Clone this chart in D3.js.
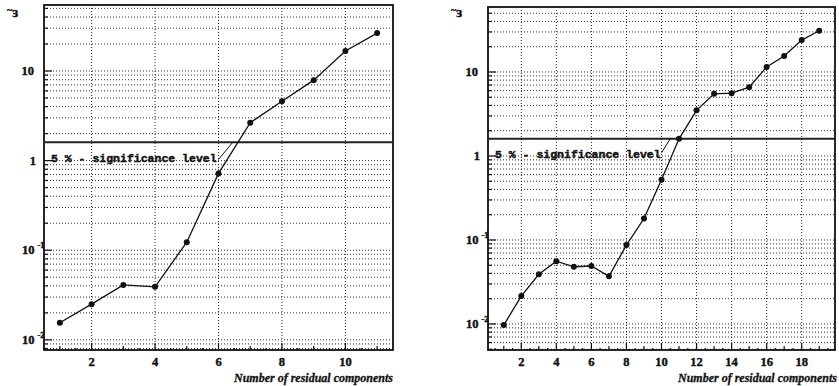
<!DOCTYPE html>
<html>
<head>
<meta charset="utf-8">
<script src="https://cdn.jsdelivr.net/npm/d3@7"></script>
<style>
  body { margin: 0; background: #fff; }
  svg { display: block; }
  .tick-lbl { font-family: "Liberation Serif", serif; font-weight: bold; font-size: 12.5px; fill: #111; stroke: #111; stroke-width: 0.4px; }
  .x-title { font-family: "Liberation Serif", serif; font-weight: bold; font-style: italic; font-size: 12px; fill: #111; stroke: #111; stroke-width: 0.3px; }
  .sig-lbl { font-family: "Liberation Mono", monospace; font-weight: bold; font-size: 11.5px; fill: #111; stroke: #111; stroke-width: 0.45px; }
</style>
</head>
<body>
<svg id="chart" width="839" height="386"></svg>
<script>
// left panel
const leftComponents = [1, 2, 3, 4, 5, 6, 7, 8, 9, 10, 11];
const leftEps = [0.0155, 0.025, 0.041, 0.039, 0.123, 0.72, 2.65, 4.6, 7.9, 16.7, 26.5];
const leftXTicks = [2, 4, 6, 8, 10];

// right panel
const rightComponents = [1, 2, 3, 4, 5, 6, 7, 8, 9, 10, 11, 12, 13, 14, 15, 16, 17, 18, 19];
const rightEps = [0.0097, 0.0215, 0.039, 0.056, 0.048, 0.049, 0.037, 0.087, 0.18, 0.52,
  1.6, 3.5, 5.5, 5.6, 6.6, 11.5, 15.5, 24, 31];
const rightXTicks = [2, 4, 6, 8, 10, 12, 14, 16, 18];

const yDecades = [10, 1, 0.1, 0.01];
const sigLevel = 1.6;
const sigText = "5 % - significance level";
const xTitle = "Number of residual components";

var svg = d3.select("#chart");

function drawPanel(opt) {
  const x = d3.scaleLinear().domain(opt.xDomain).range([opt.left, opt.right]);
  const y = d3.scaleLog().domain(opt.yDomain).range([opt.bottom, opt.top]);
  const g = svg.append("g");

  // minor log values inside the domain
  const minors = [];
  for (let e = -3; e <= 2; e++) {
    for (let k = 1; k <= 9; k++) {
      const v = k * Math.pow(10, e);
      if (v >= opt.yDomain[0] && v <= opt.yDomain[1]) minors.push(v);
    }
  }

  // horizontal dotted grid
  g.append("g").selectAll("line").data(minors).enter().append("line")
    .attr("x1", opt.left).attr("x2", opt.right)
    .attr("y1", d => y(d)).attr("y2", d => y(d))
    .attr("stroke", "#333").attr("stroke-width", 1)
    .attr("stroke-dasharray", "1,2");

  // vertical dotted grid
  g.append("g").selectAll("line").data(opt.xTicks).enter().append("line")
    .attr("x1", d => x(d)).attr("x2", d => x(d))
    .attr("y1", opt.top).attr("y2", opt.bottom)
    .attr("stroke", "#222").attr("stroke-width", 1)
    .attr("stroke-dasharray", "1,2");

  // y tick marks (inside)
  g.append("g").selectAll("line").data(minors).enter().append("line")
    .attr("x1", opt.left).attr("x2", d => opt.left + (yDecades.includes(d) ? 8 : 4))
    .attr("y1", d => y(d)).attr("y2", d => y(d))
    .attr("stroke", "#111").attr("stroke-width", 1.2);

  // x tick marks (inside, bottom)
  const xMinor = d3.range(Math.ceil(opt.xDomain[0] * 2) / 2, opt.xDomain[1], 0.5);
  g.append("g").selectAll("line").data(xMinor).enter().append("line")
    .attr("x1", d => x(d)).attr("x2", d => x(d))
    .attr("y1", opt.bottom)
    .attr("y2", d => opt.bottom - (opt.xTicks.includes(d) ? 7 : (d % 1 === 0 ? 4 : 2)))
    .attr("stroke", "#111").attr("stroke-width", 1.2);

  // frame
  g.append("rect")
    .attr("x", opt.left).attr("y", opt.top)
    .attr("width", opt.right - opt.left).attr("height", opt.bottom - opt.top)
    .attr("fill", "none").attr("stroke", "#111").attr("stroke-width", 1.8);

  // y labels
  yDecades.forEach(v => {
    const t = g.append("text").attr("class", "tick-lbl")
      .attr("y", y(v) + 4);
    if (v === 1) {
      t.attr("x", opt.left - 8).attr("text-anchor", "end").text("1");
    } else if (v === 10) {
      t.attr("x", opt.left - 10).attr("text-anchor", "end").text("10");
    } else {
      const ex = v === 0.1 ? "-1" : "-2";
      t.attr("x", opt.left - 22).attr("text-anchor", "start");
      t.append("tspan").text("10");
      t.append("tspan").attr("dx", 3).attr("dy", -6)
        .style("font-size", "8.5px").text(ex);
    }
  });

  // y-axis symbol
  const ys = g.append("text").attr("class", "tick-lbl")
    .attr("x", opt.left - 37).attr("y", 17).style("font-size", "14px");
  ys.append("tspan").style("font-size", "10px").attr("dy", -4).text("~");
  ys.append("tspan").attr("dy", 4).text("ɜ");

  // x labels
  g.append("g").selectAll("text").data(opt.xTicks).enter().append("text")
    .attr("class", "tick-lbl")
    .attr("x", d => x(d)).attr("y", opt.bottom + 16)
    .attr("text-anchor", "middle").text(d => d);

  g.append("text").attr("class", "x-title")
    .attr("x", opt.right + opt.titleShift).attr("y", 382)
    .attr("text-anchor", "end").text(xTitle);

  // significance line + label
  g.append("line")
    .attr("x1", opt.left).attr("x2", opt.right)
    .attr("y1", y(sigLevel)).attr("y2", y(sigLevel))
    .attr("stroke", "#222").attr("stroke-width", 2);

  g.append("text").attr("class", "sig-lbl")
    .attr("x", opt.left + 7).attr("y", opt.sigLabelY).text(sigText);

  g.append("line")
    .attr("x1", x(opt.pointer[0][0])).attr("y1", y(opt.pointer[0][1]))
    .attr("x2", x(opt.pointer[1][0])).attr("y2", y(opt.pointer[1][1]))
    .attr("stroke", "#111").attr("stroke-width", 1);

  // data
  const pts = opt.xs.map((c, i) => [c, opt.ys[i]]);
  g.append("path").datum(pts)
    .attr("fill", "none").attr("stroke", "#111").attr("stroke-width", 1.3)
    .attr("d", d3.line().x(d => x(d[0])).y(d => y(d[1])));

  g.append("g").selectAll("circle").data(pts).enter().append("circle")
    .attr("cx", d => x(d[0])).attr("cy", d => y(d[1])).attr("r", 3)
    .attr("fill", "#111");
}

drawPanel({
  left: 44, right: 393, top: 5, bottom: 350,
  xDomain: [0.5, 11.5], yDomain: [0.0077, 54.5],
  xTicks: leftXTicks, xs: leftComponents, ys: leftEps,
  sigLabelY: 162, pointer: [[6.0, 1.03], [6.45, sigLevel]],
  titleShift: 0
});

drawPanel({
  left: 488, right: 835, top: 7, bottom: 350,
  xDomain: [0.1, 19.9], yDomain: [0.0049, 59.4],
  xTicks: rightXTicks, xs: rightComponents, ys: rightEps,
  sigLabelY: 158, pointer: [[10.0, 1.09], [10.5, sigLevel]],
  titleShift: 2
});
</script>
</body>
</html>
